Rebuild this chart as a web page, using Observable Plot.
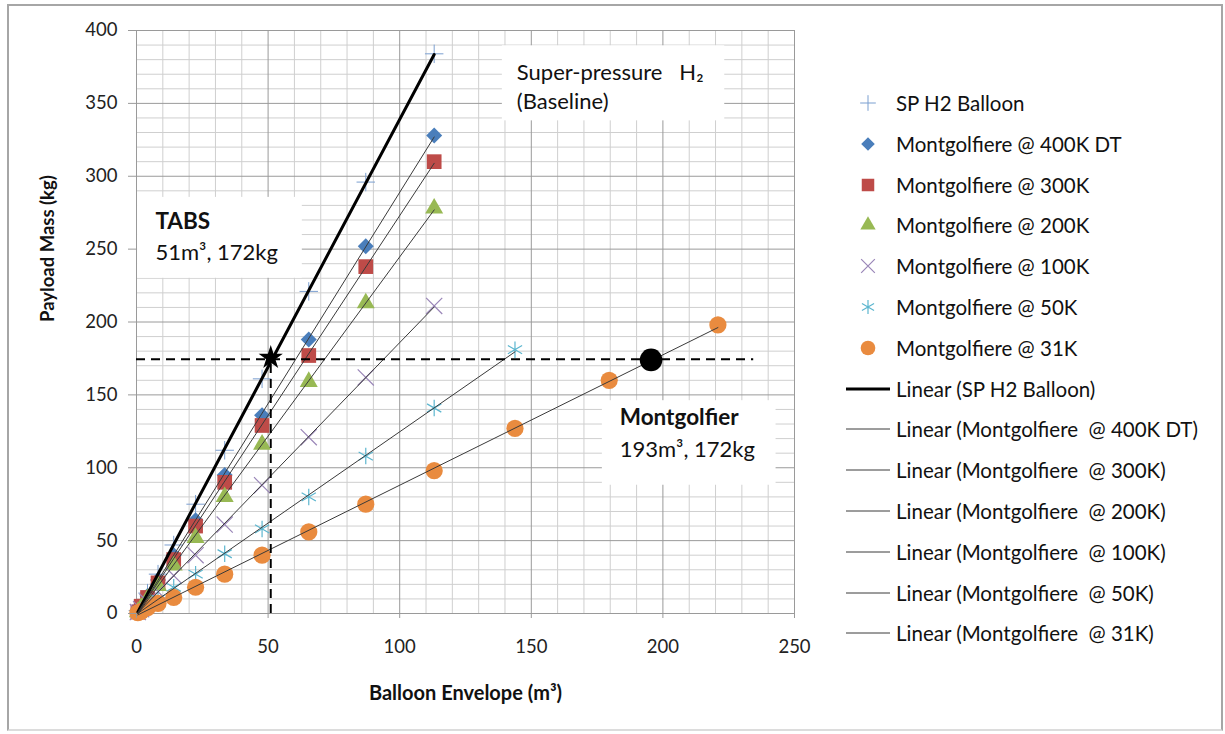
<!DOCTYPE html>
<html>
<head>
<meta charset="utf-8">
<script src="https://cdn.jsdelivr.net/npm/d3@7"></script>
<script src="https://cdn.jsdelivr.net/npm/@observablehq/plot@0.6"></script>
<style>
  body { margin: 0; background: #fff; font-family: Lato, "Open Sans", sans-serif; }
  #wrap { position: relative; width: 1225px; height: 734px; overflow: hidden; background: #fff; }
  #chart { position: absolute; left: 0; top: 0; }
  #frame { position: absolute; left: 7px; top: 4px; width: 1216px; height: 727px; box-sizing: border-box;
           border: 2px solid #a6a6a6; border-bottom-color: #dcdcdc; pointer-events: none; }
  .lg { position: absolute; left: 842px; height: 26px; display: flex; align-items: center; white-space: pre;
        font-size: 20.5px; color: #111; }
  .lg svg { width: 54px; height: 26px; flex: none; }
</style>
</head>
<body>
<div id="wrap">
  <div id="chart"></div>
  <div id="legend"></div>
  <div id="frame"></div>
</div>
<script>
// ---- data ----
const xVolume = [0.52, 1.77, 4.19, 8.18, 14.14, 22.45, 33.51, 47.71, 65.45, 87.11, 113.1, 143.8, 179.6, 220.9];
const spH2   = [2, 6, 14, 27, 47, 75, 112, 161, 221, 296, 384];
const mg400  = [1, 5, 12, 23, 40, 64, 95, 136, 188, 252, 328];
const mg300  = [1, 5, 11, 21, 37, 60, 90, 129, 177, 238, 310];
const mg200  = [1, 4, 10, 19, 33, 52, 80, 116, 159, 213, 278];
const mg100  = [1, 3, 8, 15, 26, 40, 61, 88, 121, 162, 211];
const mg50   = [1, 2, 5, 10, 18, 27, 41, 58, 80, 108, 141, 181];
const mg31   = [0.5, 1.5, 4, 7, 11, 18, 27, 40, 56, 75, 98, 127, 160, 198];
const seriesNames = ["SP H2 Balloon", "Montgolfiere @ 400K DT", "Montgolfiere @ 300K",
  "Montgolfiere @ 200K", "Montgolfiere @ 100K", "Montgolfiere @ 50K", "Montgolfiere @ 31K"];
const trendNames = ["Linear (SP H2 Balloon)", "Linear (Montgolfiere  @ 400K DT)", "Linear (Montgolfiere  @ 300K)",
  "Linear (Montgolfiere  @ 200K)", "Linear (Montgolfiere  @ 100K)", "Linear (Montgolfiere  @ 50K)", "Linear (Montgolfiere  @ 31K)"];
const xTicks = [0, 50, 100, 150, 200, 250];
const yTicks = [0, 50, 100, 150, 200, 250, 300, 350, 400];
// design points
const tabsPoint = {x: 51, y: 175.5};
const montPoint = {x: 195.5, y: 174};
const reqPayload = 174.5;
const dashEndX = 234.5;
// annotation boxes (data units)
const boxes = [
  {x1: 139, x2: 223.5, y1: 338, y2: 389.5},
  {x1: 0.4, x2: 63, y1: 230, y2: 285.5},
  {x1: 177, x2: 243, y1: 88, y2: 146}
];
const notes = [
  {x: 144.5, y: 371, t: "Super-pressure \u00a0\u00a0H\u2082", bold: false},
  {x: 144.5, y: 351, t: "(Baseline)", bold: false},
  {x: 7.2, y: 269, t: "TABS", bold: true},
  {x: 7.2, y: 247.5, t: "51m\u00b3, 172kg", bold: false},
  {x: 183.6, y: 134, t: "Montgolfier", bold: true},
  {x: 183.6, y: 112.5, t: "193m\u00b3, 172kg", bold: false}
];

const seriesValues = [spH2, mg400, mg300, mg200, mg100, mg50, mg31];
const styles = [
  {symbol: "plus", stroke: "#7b9fd0", fill: "none", r: 6, sw: 1},
  {symbol: "diamond2", fill: "#4a7ebb", stroke: "none", r: 7.2},
  {symbol: "square", fill: "#be4b48", stroke: "none", r: 8.3},
  {symbol: "triangle", fill: "#98b954", stroke: "none", r: 6.7},
  {symbol: "times", stroke: "#9a86b8", fill: "none", r: 7.4, sw: 1.2},
  {symbol: "asterisk", stroke: "#5cb6cf", fill: "none", r: 7.8, sw: 1.2},
  {symbol: "circle", fill: "#e98b3f", stroke: "none", r: 8.6}
];

const rows = [];
seriesValues.forEach((vals, i) => vals.forEach((v, j) => rows.push({s: seriesNames[i], x: xVolume[j], y: v})));

const minorX = d3.range(0, 251, 10).filter(d => d % 50 !== 0);
const minorY = d3.range(0, 401, 10).filter(d => d % 50 !== 0);

const marks = [
  Plot.ruleX(minorX, {stroke: "#cfcfcf", strokeWidth: 1}),
  Plot.ruleY(minorY, {stroke: "#cfcfcf", strokeWidth: 1}),
  Plot.ruleX(xTicks, {stroke: "#9a9a9a", strokeWidth: 1}),
  Plot.ruleY(yTicks, {stroke: "#9a9a9a", strokeWidth: 1}),
  Plot.rect(boxes, {x1: "x1", x2: "x2", y1: "y1", y2: "y2", fill: "white"})
];
seriesNames.forEach((name, i) => {
  const st = styles[i];
  const d = rows.filter(r => r.s === name);
  marks.push(Plot.dot(d, {x: "x", y: "y", symbol: () => st.symbol, r: st.r,
    fill: st.fill, stroke: st.stroke, strokeWidth: st.sw || 1}));
});
seriesNames.forEach((name, i) => {
  const d = rows.filter(r => r.s === name);
  marks.push(Plot.linearRegressionY(d, {x: "x", y: "y", ci: 0,
    stroke: i === 0 ? "#000" : "#3a3a3a", strokeWidth: i === 0 ? 3 : 1}));
});
marks.push(
  Plot.ruleY([reqPayload], {x1: 0, x2: dashEndX, stroke: "#000", strokeWidth: 2, strokeDasharray: "9,6"}),
  Plot.ruleX([tabsPoint.x], {y1: 0, y2: reqPayload, stroke: "#000", strokeWidth: 2, strokeDasharray: "9,6"}),
  Plot.dot([tabsPoint], {x: "x", y: "y", symbol: "star", r: 7.6, fill: "#000"}),
  Plot.dot([montPoint], {x: "x", y: "y", r: 11.3, fill: "#000"}),
  Plot.text(notes.filter(n => !n.bold), {x: "x", y: "y", text: "t", textAnchor: "start", fontSize: 22, fill: "#111"}),
  Plot.text(notes.filter(n => n.bold), {x: "x", y: "y", text: "t", textAnchor: "start", fontSize: 22.5, fontWeight: "bold", fill: "#111"}),
  Plot.axisX({ticks: xTicks, tickSize: 5, tickPadding: 21, label: null, stroke: "#9a9a9a", fill: "#222", fontSize: 18.5}),
  Plot.axisY({ticks: yTicks, tickSize: 8, tickPadding: 11, label: null, stroke: "#9a9a9a", fill: "#222", fontSize: 18.5}),
  Plot.text(["Balloon Envelope (m\u00b3)"], {frameAnchor: "bottom", dy: 80, fontWeight: "bold", fontSize: 20, fill: "#111", lineAnchor: "middle"}),
  Plot.text(["Payload Mass (kg)"], {frameAnchor: "left", dx: -88, rotate: -90, fontWeight: "bold", fontSize: 18.5, fill: "#111", lineAnchor: "middle"})
);

const chart = Plot.plot({
  width: 830, height: 734,
  marginLeft: 136, marginRight: 36, marginTop: 30, marginBottom: 121,
  x: {domain: [0, 250]},
  y: {domain: [0, 400]},
  style: {fontFamily: "Lato, 'Open Sans', sans-serif", background: "transparent", overflow: "visible"},
  marks
});
document.getElementById("chart").appendChild(chart);

// ---- legend ----
const legend = document.getElementById("legend");
const symMap = {plus: d3.symbolPlus, diamond2: d3.symbolDiamond2, square: d3.symbolSquare, triangle: d3.symbolTriangle,
  times: d3.symbolTimes, asterisk: d3.symbolAsterisk, circle: d3.symbolCircle};
const allNames = seriesNames.concat(trendNames);
allNames.forEach((name, k) => {
  const div = document.createElement("div");
  div.className = "lg";
  div.style.top = (103 + k * 40.8 - 13) + "px";
  let svg;
  if (k < seriesNames.length) {
    const st = styles[k];
    const size = Math.PI * Math.pow(st.r * 0.85, 2);
    const p = d3.symbol(symMap[st.symbol], size)();
    svg = `<svg viewBox="0 0 54 26"><path transform="translate(26,13)" d="${p}" fill="${st.fill}" stroke="${st.stroke}" stroke-width="${st.sw || 1}"/></svg>`;
  } else {
    const thick = k === seriesNames.length;
    svg = `<svg viewBox="0 0 54 26"><line x1="4" x2="48" y1="13" y2="13" stroke="${thick ? '#000' : '#3a3a3a'}" stroke-width="${thick ? 3 : 1}"/></svg>`;
  }
  div.innerHTML = svg + `<span>${name}</span>`;
  legend.appendChild(div);
});
</script>
</body>
</html>
